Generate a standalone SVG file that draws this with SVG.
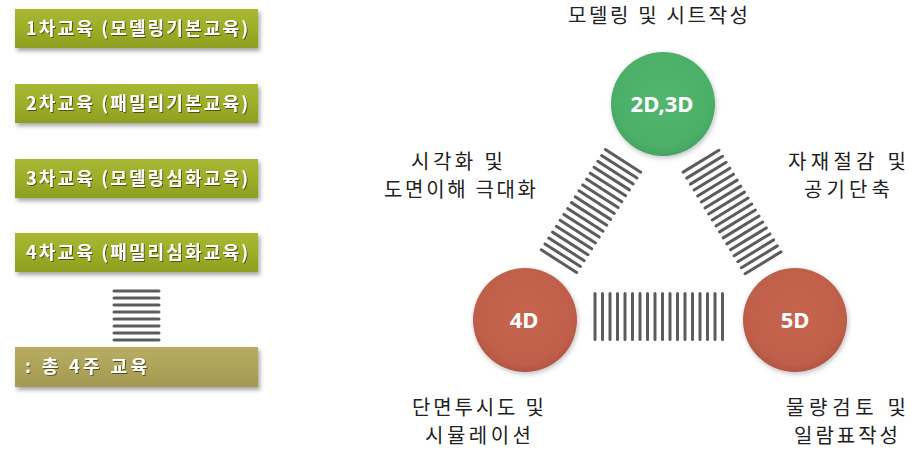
<svg xmlns="http://www.w3.org/2000/svg" width="923" height="458" viewBox="0 0 923 458">
<defs>
<linearGradient id="gOlive" x1="0" y1="0" x2="0" y2="1">
<stop offset="0" stop-color="#a8b834"/>
<stop offset="0.5" stop-color="#9dae28"/>
<stop offset="1" stop-color="#8e9e20"/>
</linearGradient>
<linearGradient id="gKhaki" x1="0" y1="0" x2="0" y2="1">
<stop offset="0" stop-color="#b8ad62"/>
<stop offset="1" stop-color="#a49952"/>
</linearGradient>
<radialGradient id="gGreen" cx="0.5" cy="0.45" r="0.55">
<stop offset="0" stop-color="#52b66f"/>
<stop offset="0.85" stop-color="#4caf68"/>
<stop offset="1" stop-color="#45a260"/>
</radialGradient>
<radialGradient id="gRed" cx="0.5" cy="0.45" r="0.55">
<stop offset="0" stop-color="#c6654f"/>
<stop offset="0.85" stop-color="#c05f4a"/>
<stop offset="1" stop-color="#b05543"/>
</radialGradient>
<filter id="sh" x="-10%" y="-20%" width="125%" height="150%">
<feDropShadow dx="2" dy="3" stdDeviation="2" flood-color="#000" flood-opacity="0.35"/>
</filter>
<filter id="shc" x="-20%" y="-20%" width="140%" height="140%">
<feDropShadow dx="1" dy="2" stdDeviation="2.5" flood-color="#000" flood-opacity="0.25"/>
</filter>
<filter id="tsh" x="-5%" y="-20%" width="110%" height="140%">
<feDropShadow dx="1" dy="1" stdDeviation="0.6" flood-color="#3a4010" flood-opacity="0.8"/>
</filter>
</defs>
<style>
.box{fill:url(#gOlive);filter:url(#sh);}
.btxt{font-family:"Noto Sans CJK KR","Noto Sans",sans-serif;font-weight:bold;font-size:18px;fill:#fff;filter:url(#tsh);}
.lbl{font-family:"Noto Sans CJK KR","Noto Sans",sans-serif;font-size:20px;fill:#222;text-anchor:middle;}
.ctxt{font-family:"Noto Sans","Noto Sans CJK KR",sans-serif;font-weight:bold;font-size:22px;fill:#fff;text-anchor:middle;}
.hatch line{stroke:#5c5c5c;stroke-width:3;stroke-linecap:round;}
</style>
<rect width="923" height="458" fill="#fff"/>

<g id="step1"><rect class="box" x="15" y="9" width="243" height="39"/><text class="btxt" x="26" y="35" textLength="222" lengthAdjust="spacing">1차교육 (모델링기본교육)</text></g>
<g id="step2"><rect class="box" x="15" y="84" width="243" height="39"/><text class="btxt" x="26" y="110" textLength="222" lengthAdjust="spacing">2차교육 (패밀리기본교육)</text></g>
<g id="step3"><rect class="box" x="15" y="159" width="243" height="39"/><text class="btxt" x="26" y="185" textLength="222" lengthAdjust="spacing">3차교육 (모델링심화교육)</text></g>
<g id="step4"><rect class="box" x="15" y="233" width="243" height="39"/><text class="btxt" x="26" y="259" textLength="222" lengthAdjust="spacing">4차교육 (패밀리심화교육)</text></g>
<g id="total"><rect x="15" y="347" width="243" height="40" fill="url(#gKhaki)" filter="url(#sh)"/><text class="btxt" x="25" y="373" textLength="122" lengthAdjust="spacing">: 총 4주 교육</text></g>

<g id="connectors">
<g class="hatch" id="hatch-left">
<line x1="114" y1="291" x2="159" y2="291"/><line x1="114" y1="298" x2="159" y2="298"/><line x1="114" y1="305" x2="159" y2="305"/><line x1="114" y1="312" x2="159" y2="312"/><line x1="114" y1="319" x2="159" y2="319"/><line x1="114" y1="326" x2="159" y2="326"/><line x1="114" y1="333" x2="159" y2="333"/><line x1="114" y1="340" x2="159" y2="340"/>
</g>
<g class="hatch" id="band-4d-2d" transform="translate(591,211) rotate(-57.4)">
<line x1="-59.5" y1="-21" x2="-59.5" y2="21"/><line x1="-52.5" y1="-21" x2="-52.5" y2="21"/><line x1="-45.5" y1="-21" x2="-45.5" y2="21"/><line x1="-38.5" y1="-21" x2="-38.5" y2="21"/><line x1="-31.5" y1="-21" x2="-31.5" y2="21"/><line x1="-24.5" y1="-21" x2="-24.5" y2="21"/><line x1="-17.5" y1="-21" x2="-17.5" y2="21"/><line x1="-10.5" y1="-21" x2="-10.5" y2="21"/><line x1="-3.5" y1="-21" x2="-3.5" y2="21"/><line x1="3.5" y1="-21" x2="3.5" y2="21"/><line x1="10.5" y1="-21" x2="10.5" y2="21"/><line x1="17.5" y1="-21" x2="17.5" y2="21"/><line x1="24.5" y1="-21" x2="24.5" y2="21"/><line x1="31.5" y1="-21" x2="31.5" y2="21"/><line x1="38.5" y1="-21" x2="38.5" y2="21"/><line x1="45.5" y1="-21" x2="45.5" y2="21"/><line x1="52.5" y1="-21" x2="52.5" y2="21"/><line x1="59.5" y1="-21" x2="59.5" y2="21"/>
</g>
<g class="hatch" id="band-2d-5d" transform="translate(732,212) rotate(58.6)">
<line x1="-59.5" y1="-21" x2="-59.5" y2="21"/><line x1="-52.5" y1="-21" x2="-52.5" y2="21"/><line x1="-45.5" y1="-21" x2="-45.5" y2="21"/><line x1="-38.5" y1="-21" x2="-38.5" y2="21"/><line x1="-31.5" y1="-21" x2="-31.5" y2="21"/><line x1="-24.5" y1="-21" x2="-24.5" y2="21"/><line x1="-17.5" y1="-21" x2="-17.5" y2="21"/><line x1="-10.5" y1="-21" x2="-10.5" y2="21"/><line x1="-3.5" y1="-21" x2="-3.5" y2="21"/><line x1="3.5" y1="-21" x2="3.5" y2="21"/><line x1="10.5" y1="-21" x2="10.5" y2="21"/><line x1="17.5" y1="-21" x2="17.5" y2="21"/><line x1="24.5" y1="-21" x2="24.5" y2="21"/><line x1="31.5" y1="-21" x2="31.5" y2="21"/><line x1="38.5" y1="-21" x2="38.5" y2="21"/><line x1="45.5" y1="-21" x2="45.5" y2="21"/><line x1="52.5" y1="-21" x2="52.5" y2="21"/><line x1="59.5" y1="-21" x2="59.5" y2="21"/>
</g>
<g class="hatch" id="band-4d-5d" transform="translate(658.5,316.5)">
<line x1="-63.5" y1="-23" x2="-63.5" y2="23"/><line x1="-56" y1="-23" x2="-56" y2="23"/><line x1="-48.5" y1="-23" x2="-48.5" y2="23"/><line x1="-41" y1="-23" x2="-41" y2="23"/><line x1="-33.5" y1="-23" x2="-33.5" y2="23"/><line x1="-26" y1="-23" x2="-26" y2="23"/><line x1="-18.5" y1="-23" x2="-18.5" y2="23"/><line x1="-11" y1="-23" x2="-11" y2="23"/><line x1="-3.5" y1="-23" x2="-3.5" y2="23"/><line x1="4" y1="-23" x2="4" y2="23"/><line x1="11.5" y1="-23" x2="11.5" y2="23"/><line x1="19" y1="-23" x2="19" y2="23"/><line x1="26.5" y1="-23" x2="26.5" y2="23"/><line x1="34" y1="-23" x2="34" y2="23"/><line x1="41.5" y1="-23" x2="41.5" y2="23"/><line x1="49" y1="-23" x2="49" y2="23"/><line x1="56.5" y1="-23" x2="56.5" y2="23"/><line x1="64" y1="-23" x2="64" y2="23"/>
</g>
</g>

<g id="node-2d3d"><circle cx="663" cy="104" r="52" fill="url(#gGreen)" filter="url(#shc)"/><text class="ctxt" x="662" y="112">2D,3D</text></g>
<g id="node-4d"><circle cx="525" cy="320" r="52" fill="url(#gRed)" filter="url(#shc)"/><text class="ctxt" x="524" y="328">4D</text></g>
<g id="node-5d"><circle cx="795" cy="320" r="52" fill="url(#gRed)" filter="url(#shc)"/><text class="ctxt" x="795" y="328">5D</text></g>

<g id="labels">
<text class="lbl" x="658" y="23" textLength="180" lengthAdjust="spacing">모델링 및 시트작성</text>
<text class="lbl" x="457" y="169" textLength="92" lengthAdjust="spacing">시각화 및</text>
<text class="lbl" x="460" y="197" textLength="152" lengthAdjust="spacing">도면이해 극대화</text>
<text class="lbl" x="847" y="169" textLength="118" lengthAdjust="spacing">자재절감 및</text>
<text class="lbl" x="847" y="197" textLength="86" lengthAdjust="spacing">공기단축</text>
<text class="lbl" x="478" y="415" textLength="132" lengthAdjust="spacing">단면투시도 및</text>
<text class="lbl" x="478" y="443" textLength="106" lengthAdjust="spacing">시뮬레이션</text>
<text class="lbl" x="846" y="415" textLength="120" lengthAdjust="spacing">물량검토 및</text>
<text class="lbl" x="846" y="443" textLength="104" lengthAdjust="spacing">일람표작성</text>
</g>
</svg>
